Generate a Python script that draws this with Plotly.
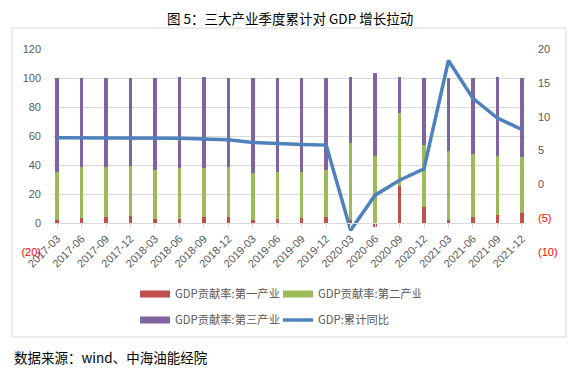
import plotly.graph_objects as go

quarters = ["2017-03", "2017-06", "2017-09", "2017-12", "2018-03", "2018-06", "2018-09", "2018-12",
            "2019-03", "2019-06", "2019-09", "2019-12", "2020-03", "2020-06", "2020-09", "2020-12",
            "2021-03", "2021-06", "2021-09", "2021-12"]
primary = [1.8, 3.2, 3.9, 4.6, 2.5, 2.5, 3.9, 3.9, 1.8, 2.5, 3.2, 3.9, 1.8, -3.0, 25.4, 10.9, 1.8, 3.9, 5.3, 6.7]
secondary = [33.7, 35.4, 34.7, 34.4, 33.8, 35.1, 33.7, 34.7, 32.6, 32.6, 31.9, 32.6, 53.2, 46.0, 50.4, 42.7,
             47.6, 43.4, 40.7, 38.6]
tertiary = [64.5, 61.4, 61.4, 61.0, 63.7, 63.4, 63.4, 61.4, 65.6, 64.9, 64.9, 63.5, 46.0, 57.5, 24.9, 46.4,
            50.6, 52.7, 54.5, 54.7]
gdp_yoy = [6.9, 6.9, 6.9, 6.9, 6.8, 6.8, 6.7, 6.6, 6.2, 6.0, 5.9, 5.8, -6.8, -1.6, 0.6, 2.3, 18.3, 12.7, 9.8, 8.1]

left_ticks = [-20, 0, 20, 40, 60, 80, 100, 120]
grid_ticks = [0, 20, 40, 60, 80, 100, 120]
right_ticks = [-10, -5, 0, 5, 10, 15, 20]

names = ["GDP贡献率:第一产业", "GDP贡献率:第二产业", "GDP贡献率:第三产业", "GDP:累计同比"]
colors = ["#C0504D", "#9BBB59", "#8064A2", "#4F81BD"]

GRAY = "#595959"
GRID = "#D9D9D9"
CJK = "Noto Sans CJK SC"
LAT = "Liberation Sans"

# the page body adds an 8px offset; the figure is sized to fill the rest of the window
W, H = 575, 374
PL, PR, PT, PB = 45, 518, 41, 244   # plot area in figure pixels
PW, PH = PR - PL, PB - PT


def px_x(x):
    return (x - PL) / PW


def px_y(y):
    return (PB - y) / PH


def fmt(v):
    if v < 0:
        return '<span style="color:#FF0000">(%d)</span>' % abs(v)
    return str(v)


fig = go.Figure()
for vals, name, col in zip([primary, secondary, tertiary], names[:3], colors[:3]):
    fig.add_trace(go.Bar(x=quarters, y=vals, name=name, marker=dict(color=col, line=dict(width=0)),
                         width=0.14, showlegend=False, yaxis="y"))

fig.add_trace(go.Scatter(x=quarters, y=gdp_yoy, name=names[3], mode="lines",
                         line=dict(color=colors[3], width=3.5), yaxis="y2", legend="legend2"))

for i, leg in [(0, "legend"), (1, "legend"), (2, "legend2")]:
    fig.add_trace(go.Scatter(x=[None], y=[None], mode="lines", name=names[i],
                             line=dict(color=colors[i], width=7), legend=leg, yaxis="y"))

fig.update_traces(legendrank=1, selector=dict(name=names[2]))
fig.update_traces(legendrank=2, selector=dict(name=names[3]))

legend_common = dict(orientation="h", xref="container", yref="container", xanchor="left", yanchor="middle",
                     font=dict(family=CJK, size=11.3, color=GRAY), entrywidth=98, itemwidth=30,
                     bgcolor="rgba(0,0,0,0)", tracegroupgap=0)

fig.update_layout(
    width=W, height=H,
    margin=dict(l=PL, r=W - PR, t=PT, b=H - PB, autoexpand=False),
    paper_bgcolor="white", plot_bgcolor="white",
    barmode="relative", bargap=0,
    xaxis=dict(type="category", range=[-0.17, 19.17], anchor="free", position=20 / 140,
               showline=True, linecolor=GRID, linewidth=1, ticks="outside", ticklen=4, tickcolor=GRID,
               tickangle=-45, tickfont=dict(family=LAT, size=11, color=GRAY), showgrid=False,
               zeroline=False, automargin=False),
    yaxis=dict(range=[-20, 120], tickmode="array", tickvals=left_ticks,
               ticktext=[fmt(v) for v in left_ticks], showgrid=False, zeroline=False, showline=False,
               ticks="", ticklabelstandoff=11, tickfont=dict(family=LAT, size=11, color=GRAY),
               automargin=False),
    yaxis3=dict(range=[-20, 120], overlaying="y", tickmode="array", tickvals=grid_ticks,
                showticklabels=False, showgrid=True, gridcolor=GRID, gridwidth=1, zeroline=False,
                showline=False, ticks="", automargin=False),
    yaxis2=dict(range=[-10, 20], overlaying="y", side="right", tickmode="array", tickvals=right_ticks,
                ticktext=[fmt(v) for v in right_ticks], showgrid=False, zeroline=False, showline=False,
                ticks="", ticklabelstandoff=11, tickfont=dict(family=LAT, size=11, color=GRAY),
                automargin=False),
    legend=dict(legend_common, x=127 / W, y=1 - 286 / H),
    legend2=dict(legend_common, x=127 / W, y=1 - 312 / H),
    shapes=[dict(type="rect", xref="paper", yref="paper", x0=px_x(4), x1=px_x(558),
                 y0=px_y(329), y1=px_y(20), line=dict(color=GRID, width=1),
                 fillcolor="rgba(0,0,0,0)", layer="below")],
    annotations=[
        dict(text="图 5：三大产业季度累计对 GDP 增长拉动", xref="paper", yref="paper",
             x=px_x(282), y=px_y(10), xanchor="center", yanchor="middle", showarrow=False,
             font=dict(family=CJK, size=13.5, color="#000000")),
        dict(text="数据来源：wind、中海油能经院", xref="paper", yref="paper",
             x=px_x(4), y=px_y(349), xanchor="left", yanchor="middle",
             showarrow=False, font=dict(family=CJK, size=13.5, color="#000000")),
    ],
)

fig.add_trace(go.Scatter(x=[None], y=[None], yaxis="y3", showlegend=False, hoverinfo="skip"))

fig.write_html("out.html")
